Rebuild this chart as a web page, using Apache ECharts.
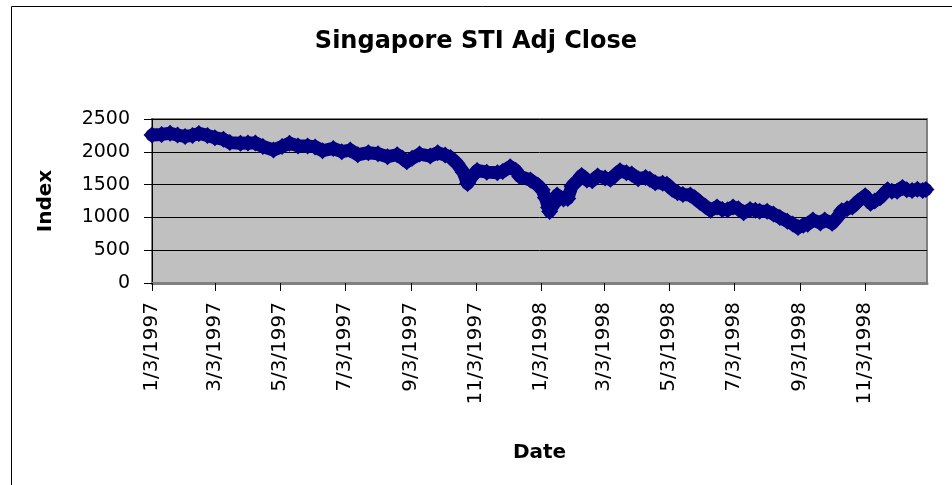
<!DOCTYPE html>
<html><head><meta charset="utf-8">
<script src="https://cdn.jsdelivr.net/npm/echarts@6/dist/echarts.min.js"></script>
<style>html,body{margin:0;padding:0;background:#fff}#c{width:952px;height:485px}</style>
</head><body><div id="c"></div>
<script>
const dates = ['1997-01-03','1997-01-12','1997-01-20','1997-01-27','1997-02-03','1997-02-10','1997-02-16','1997-02-24','1997-03-03','1997-03-11',
'1997-03-17','1997-03-27','1997-04-03','1997-04-10','1997-04-17','1997-04-27','1997-05-05','1997-05-12','1997-05-20','1997-05-29',
'1997-06-05','1997-06-12','1997-06-22','1997-06-30','1997-07-08','1997-07-15','1997-07-25','1997-08-03','1997-08-12','1997-08-21',
'1997-08-26','1997-08-30','1997-09-04','1997-09-11','1997-09-21','1997-09-28','1997-10-05','1997-10-10','1997-10-16','1997-10-22',
'1997-10-26','1997-10-30','1997-11-04','1997-11-13','1997-11-23','1997-11-28','1997-12-05','1997-12-10','1997-12-14','1997-12-24',
'1997-12-31',
'1998-01-04','1998-01-07','1998-01-10','1998-01-11','1998-01-14','1998-01-18','1998-01-24','1998-01-28','1998-02-01','1998-02-06',
'1998-02-10','1998-02-15','1998-02-20','1998-02-25','1998-03-04','1998-03-09','1998-03-13','1998-03-18','1998-03-24','1998-03-29',
'1998-04-04','1998-04-11','1998-04-15','1998-04-20','1998-04-27','1998-05-01','1998-05-06','1998-05-11','1998-05-16','1998-05-23',
'1998-05-27','1998-06-01','1998-06-06','1998-06-11','1998-06-17','1998-06-22','1998-06-27','1998-07-02','1998-07-07','1998-07-12',
'1998-07-18','1998-07-23','1998-07-27','1998-08-03','1998-08-09','1998-08-15','1998-08-22','1998-08-27','1998-09-01','1998-09-06',
'1998-09-10','1998-09-15','1998-09-22','1998-09-26','1998-10-03','1998-10-08','1998-10-12','1998-10-17','1998-10-22','1998-10-27',
'1998-11-03','1998-11-08','1998-11-12','1998-11-17','1998-11-24','1998-11-28','1998-12-03','1998-12-08','1998-12-12','1998-12-17',
'1998-12-22','1998-12-27','1998-12-30'];
const adjClose = [2256,2265,2283,2255,2235,2250,2280,2250,2215,2190,
2140,2130,2135,2135,2080,2027,2080,2129,2090,2088,
2075,2016,2052,2001,2027,1955,1986,1970,1925,1955,
1900,1848,1900,1965,1935,1986,1950,1915,1823,1690,
1515,1620,1715,1690,1680,1700,1772,1720,1625,1570,
1490,
1420,1300,1150,1090,1180,1340,1280,1290,1480,1560,
1640,1570,1560,1630,1600,1580,1640,1711,1680,1660,
1590,1610,1580,1527,1520,1507,1430,1375,1350,1340,
1300,1230,1170,1110,1160,1120,1115,1160,1130,1070,
1121,1110,1095,1095,1050,1000,940,900,845,880,
896,960,916,960,910,1000,1100,1130,1160,1240,
1330,1215,1250,1300,1420,1400,1400,1457,1420,1410,
1430,1410,1426];
const tickLabels = ['1/3/1997','3/3/1997','5/3/1997','7/3/1997','9/3/1997','11/3/1997','1/3/1998','3/3/1998','5/3/1998','7/3/1998','9/3/1998','11/3/1998'];
const axisStart = '1997-01-03';
const axisEnd = '1998-12-31';
const yMin = 0, yMax = 2500, yStep = 500;

function isoTs(s){const p=s.split('-').map(Number);return new Date(p[0],p[1]-1,p[2]).getTime();}
function mdyTs(s){const p=s.split('/').map(Number);return new Date(p[2],p[0]-1,p[1]).getTime();}
function fmt(v){const d=new Date(v);return (d.getMonth()+1)+'/'+d.getDate()+'/'+d.getFullYear();}

const tickTs = tickLabels.map(mdyTs);
const seriesData = dates.map((d,i)=>[isoTs(d), adjClose[i]]);
const FONT = 'DejaVu Sans';

const chart = echarts.init(document.getElementById('c'), null, {renderer:'canvas'});
chart.setOption({
  animation:false,
  backgroundColor:'#ffffff',
  title:{text:'Singapore STI Adj Close',left:'center',top:25,
    textStyle:{fontFamily:FONT,fontSize:24,fontWeight:'bold',color:'#000'}},
  graphic:[{type:'rect',left:9,top:4,shape:{width:960,height:500},
    style:{fill:'none',stroke:'#000',lineWidth:1},silent:true,z:-1}],
  grid:{left:152,top:119,width:775,height:164,show:true,backgroundColor:'#c0c0c0',
    borderColor:'#808080',borderWidth:2,outerBoundsMode:'none'},
  xAxis:{type:'value',min:isoTs(axisStart),max:isoTs(axisEnd),
    name:'Date',nameLocation:'middle',nameGap:160,
    nameTextStyle:{fontFamily:FONT,fontSize:20,fontWeight:'bold',color:'#000'},
    axisLine:{show:true,lineStyle:{color:'#808080',width:3}},
    axisTick:{show:true,length:8,inside:false,customValues:tickTs,lineStyle:{color:'#000',width:1}},
    axisLabel:{show:true,rotate:90,margin:19,customValues:tickTs,formatter:fmt,
      fontFamily:FONT,fontSize:20,color:'#000'},
    splitLine:{show:false}},
  yAxis:{type:'value',min:yMin,max:yMax,interval:yStep,
    name:'Index',nameLocation:'middle',nameGap:96,
    nameTextStyle:{fontFamily:FONT,fontSize:20,fontWeight:'bold',color:'#000'},
    axisLine:{show:true,lineStyle:{color:'#000',width:1}},
    axisTick:{show:true,length:8,inside:false,lineStyle:{color:'#000',width:1}},
    axisLabel:{margin:22,fontFamily:FONT,fontSize:19,color:'#000',formatter:(v)=>String(v)},
    splitLine:{show:true,lineStyle:{color:'#000',width:1}}},
  series:[{type:'line',data:seriesData,clip:false,
    symbol:'diamond',symbolSize:17,showSymbol:true,
    itemStyle:{color:'#000080',borderWidth:0},
    lineStyle:{color:'#000080',width:13,join:'round',cap:'round'},
    emphasis:{disabled:true}}]
});
</script></body></html>
